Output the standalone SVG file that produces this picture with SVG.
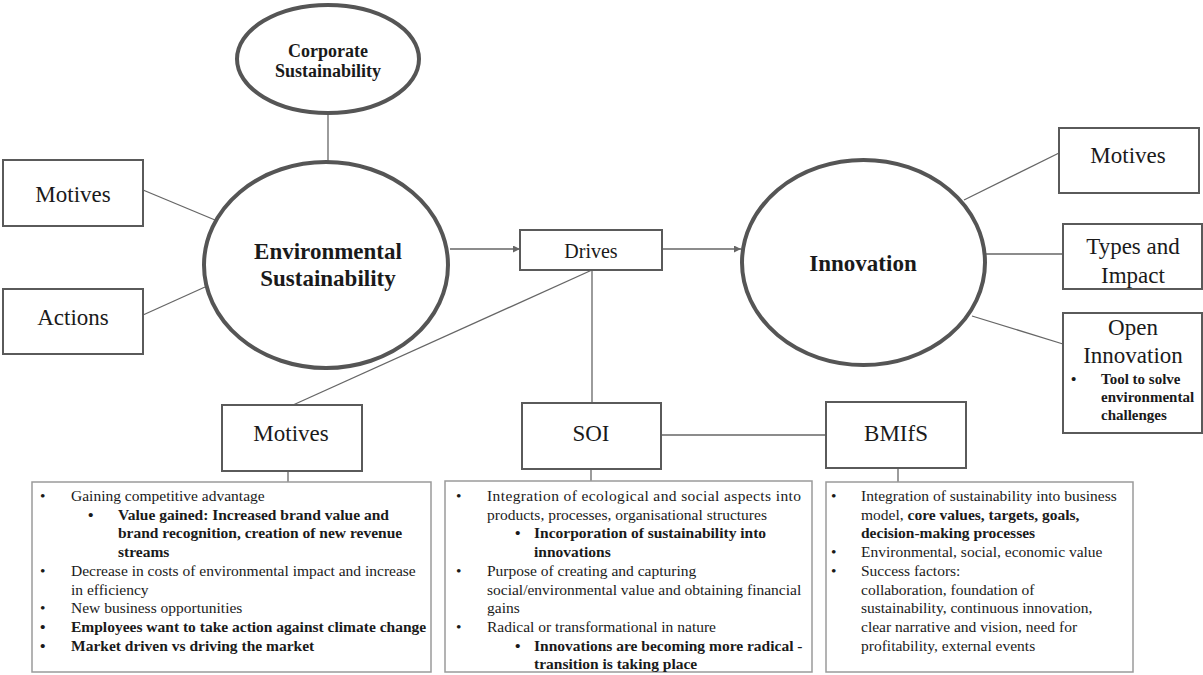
<svg xmlns="http://www.w3.org/2000/svg" width="1203" height="675" viewBox="0 0 1203 675">
  <style>
    text { font-family: "Liberation Serif", "Times New Roman", serif; fill: #1a1a1a; }
    .oval { fill: #fff; stroke: #555; stroke-width: 4; }
    .node { fill: #fff; stroke: #5a5a5a; stroke-width: 2; }
    .list { fill: #fff; stroke: #9a9a9a; stroke-width: 1.5; }
    .link { stroke: #666; stroke-width: 1.3; fill: none; }
    .lbl { font-size: 23px; text-anchor: middle; }
    .big { font-size: 23px; font-weight: bold; text-anchor: middle; }
    .li { font-size: 15.5px; }
    .b { font-weight: bold; }
  </style>
  <defs>
    <marker id="arrow" viewBox="0 0 10 10" refX="10" refY="5" markerWidth="8" markerHeight="7" markerUnits="userSpaceOnUse" orient="auto">
      <path d="M0,0 L10,5 L0,10 Z" fill="#666"/>
    </marker>
  </defs>

  <rect width="1203" height="675" fill="#fff"/>

  <!-- connectors -->
  <g id="connectors">
    <line class="link" x1="328" y1="113" x2="328" y2="162"/>
    <line class="link" x1="143" y1="190" x2="215" y2="220"/>
    <line class="link" x1="143" y1="315" x2="205" y2="287"/>
    <line class="link" x1="450" y1="249" x2="520" y2="249" marker-end="url(#arrow)"/>
    <line class="link" x1="662" y1="249" x2="741" y2="249" marker-end="url(#arrow)"/>
    <line class="link" x1="592" y1="270" x2="293" y2="405"/>
    <line class="link" x1="592" y1="270" x2="592" y2="403"/>
    <line class="link" x1="661" y1="435" x2="826" y2="435"/>
    <line class="link" x1="964" y1="200" x2="1059" y2="153"/>
    <line class="link" x1="985" y1="254" x2="1063" y2="254"/>
    <line class="link" x1="972" y1="316" x2="1063" y2="344"/>
    <line class="link" x1="288" y1="471" x2="288" y2="482"/>
    <line class="link" x1="591" y1="469" x2="591" y2="481"/>
    <line class="link" x1="898" y1="468" x2="898" y2="482"/>
  </g>

  <!-- Corporate Sustainability -->
  <g id="corporate">
    <ellipse class="oval" cx="328" cy="59" rx="91" ry="54"/>
    <text class="big" style="font-size:18px" x="328" y="57">Corporate</text>
    <text class="big" style="font-size:18px" x="328" y="77">Sustainability</text>
  </g>

  <!-- Environmental Sustainability -->
  <g id="environmental">
    <ellipse class="oval" cx="326" cy="265" rx="122" ry="103"/>
    <text class="big" x="328" y="259">Environmental</text>
    <text class="big" x="328" y="286">Sustainability</text>
  </g>

  <g id="env-motives">
    <rect class="node" x="3" y="160" width="140" height="66"/>
    <text class="lbl" x="73" y="202">Motives</text>
  </g>

  <g id="env-actions">
    <rect class="node" x="3" y="289" width="140" height="65"/>
    <text class="lbl" x="73" y="325">Actions</text>
  </g>

  <!-- Drives -->
  <g id="drives">
    <rect class="node" x="520" y="230" width="142" height="40"/>
    <text class="lbl" style="font-size:20px" x="591" y="258">Drives</text>
  </g>

  <!-- Innovation -->
  <g id="innovation">
    <ellipse class="oval" cx="863.5" cy="262.5" rx="121.5" ry="102.5"/>
    <text class="big" x="863" y="271">Innovation</text>
  </g>

  <g id="inno-motives">
    <rect class="node" x="1059" y="128" width="140" height="65"/>
    <text class="lbl" x="1128" y="163">Motives</text>
  </g>

  <g id="inno-types">
    <rect class="node" x="1063" y="224" width="139" height="65"/>
    <text class="lbl" x="1133" y="254">Types and</text>
    <text class="lbl" x="1133" y="283">Impact</text>
  </g>

  <g id="inno-open">
    <rect class="node" x="1063" y="313" width="139" height="120"/>
    <text class="lbl" x="1133" y="335">Open</text>
    <text class="lbl" x="1133" y="363">Innovation</text>
    <text class="b" style="font-size:15px" x="1071" y="384">•</text>
    <text class="b" style="font-size:15px" x="1101" y="384">Tool to solve</text>
    <text class="b" style="font-size:15px" x="1101" y="402">environmental</text>
    <text class="b" style="font-size:15px" x="1101" y="420">challenges</text>
  </g>

  <!-- Lower row -->
  <g id="motives">
    <rect class="node" x="222" y="405" width="140" height="66"/>
    <text class="lbl" x="291" y="441">Motives</text>
  </g>

  <g id="soi">
    <rect class="node" x="522" y="403" width="139" height="66"/>
    <text class="lbl" x="591" y="441">SOI</text>
  </g>

  <g id="bmifs">
    <rect class="node" x="826" y="402" width="140" height="66"/>
    <text class="lbl" x="896" y="441">BMIfS</text>
  </g>

  <!-- Motives details -->
  <g id="motives-list">
    <rect class="list" x="32" y="482" width="399" height="190"/>
    <text class="li" x="40" y="501">•</text>
    <text class="li" x="71" y="501">Gaining competitive  advantage</text>
    <text class="li b" x="88" y="519.7">•</text>
    <text class="li b" x="118" y="519.7">Value gained: Increased brand value and</text>
    <text class="li b" x="118" y="538.4">brand recognition, creation of new revenue</text>
    <text class="li b" x="118" y="557.1">streams</text>
    <text class="li" x="40" y="575.8">•</text>
    <text class="li" x="71" y="575.8">Decrease in costs of environmental impact and increase</text>
    <text class="li" x="71" y="594.5">in efficiency</text>
    <text class="li" x="40" y="613.2">•</text>
    <text class="li" x="71" y="613.2">New business opportunities</text>
    <text class="li b" x="40" y="631.9">•</text>
    <text class="li b" x="71" y="631.9">Employees want to take action against climate change</text>
    <text class="li b" x="40" y="650.6">•</text>
    <text class="li b" x="71" y="650.6">Market driven vs driving the market</text>
  </g>

  <!-- SOI details -->
  <g id="soi-list">
    <rect class="list" x="445" y="481" width="367" height="191"/>
    <text class="li" x="456" y="501">•</text>
    <text class="li" x="487" y="501" textLength="314" lengthAdjust="spacing">Integration of ecological and social aspects into</text>
    <text class="li" x="487" y="519.7">products, processes, organisational structures</text>
    <text class="li b" x="515" y="538.4">•</text>
    <text class="li b" x="534" y="538.4">Incorporation of sustainability into</text>
    <text class="li b" x="534" y="557.1">innovations</text>
    <text class="li" x="456" y="575.8">•</text>
    <text class="li" x="487" y="575.8">Purpose of creating and capturing</text>
    <text class="li" x="487" y="594.5">social/environmental  value and obtaining financial</text>
    <text class="li" x="487" y="613.2">gains</text>
    <text class="li" x="456" y="631.9">•</text>
    <text class="li" x="487" y="631.9">Radical or transformational in nature</text>
    <text class="li b" x="515" y="650.6">•</text>
    <text class="li b" x="534" y="650.6">Innovations are becoming more radical -</text>
    <text class="li b" x="534" y="669.3">transition is taking place</text>
  </g>

  <!-- BMIfS details -->
  <g id="bmifs-list">
    <rect class="list" x="826" y="482" width="307" height="190"/>
    <text class="li" x="831" y="501">•</text>
    <text class="li" x="861" y="501">Integration of sustainability into business</text>
    <text class="li" x="861" y="519.7">model, <tspan class="b">core values, targets, goals,</tspan></text>
    <text class="li b" x="861" y="538.4">decision-making processes</text>
    <text class="li" x="831" y="557.1">•</text>
    <text class="li" x="861" y="557.1">Environmental, social, economic value</text>
    <text class="li" x="831" y="575.8">•</text>
    <text class="li" x="861" y="575.8">Success factors:</text>
    <text class="li" x="861" y="594.5">collaboration, foundation of</text>
    <text class="li" x="861" y="613.2">sustainability, continuous innovation,</text>
    <text class="li" x="861" y="631.9">clear narrative and vision, need for</text>
    <text class="li" x="861" y="650.6">profitability, external events</text>
  </g>
</svg>
